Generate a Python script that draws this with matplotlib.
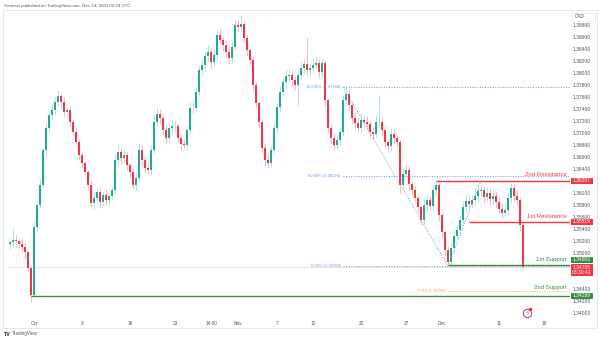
import matplotlib.pyplot as plt
from matplotlib.patches import Rectangle
from matplotlib.transforms import blended_transform_factory

plt.rcParams['font.family'] = ['Liberation Sans', 'DejaVu Sans']

# USD/CAD 4h candles, close prices
first_open = 1.3515
closes = [
    1.35184, 1.35217, 1.35200, 1.35150, 1.35100, 1.35017, 1.34750, 1.34300, 1.35434, 1.35800,
    1.36134, 1.36717, 1.37084, 1.37300, 1.37384, 1.37517, 1.37617, 1.37517, 1.37350, 1.37384,
    1.37184, 1.37017, 1.36850, 1.36634, 1.36500, 1.36350, 1.36134, 1.35834, 1.35917, 1.36017,
    1.35850, 1.35967, 1.35884, 1.35950, 1.36050, 1.36550, 1.36684, 1.36584, 1.36634, 1.36467,
    1.36350, 1.36134, 1.36250, 1.36717, 1.36550, 1.36417, 1.36384, 1.36717, 1.37184, 1.37317,
    1.37250, 1.37050, 1.36917, 1.37084, 1.37117, 1.37117, 1.36917, 1.36817, 1.36800, 1.37050,
    1.37417, 1.37417, 1.37684, 1.38050, 1.38134, 1.38284, 1.38350, 1.38184, 1.38300, 1.38634,
    1.38550, 1.38467, 1.38350, 1.38250, 1.38434, 1.38800, 1.38767, 1.38817, 1.38584, 1.38384,
    1.38217, 1.37800, 1.37500, 1.37184, 1.36750, 1.36550, 1.36500, 1.36717, 1.37084, 1.37434,
    1.37684, 1.37850, 1.37950, 1.37967, 1.37884, 1.37800, 1.37967, 1.38084, 1.38150, 1.38050,
    1.38084, 1.38134, 1.38167, 1.38017, 1.38167, 1.37550, 1.37084, 1.36917, 1.36800, 1.36884,
    1.37017, 1.37550, 1.37650, 1.37467, 1.37250, 1.37167, 1.37084, 1.37217, 1.37184, 1.37150,
    1.37017, 1.36984, 1.37184, 1.37184, 1.37050, 1.36850, 1.36784, 1.36984, 1.36917, 1.36850,
    1.36134, 1.36317, 1.36384, 1.36150, 1.36050, 1.35917, 1.35767, 1.35550, 1.35800, 1.35884,
    1.35784, 1.36050, 1.36134, 1.35634, 1.35350, 1.35050, 1.34850, 1.35084, 1.35284, 1.35384,
    1.35550, 1.35767, 1.35867, 1.35817, 1.35884, 1.35950, 1.36034, 1.36050, 1.35934, 1.36000,
    1.35900, 1.35950, 1.35850, 1.35734, 1.35667, 1.35717, 1.35917, 1.36084, 1.35950, 1.35884,
    1.35467, 1.34765,
]
# wick lengths in pips above / below the body
wick_up = [
    6, 20, 8, 5, 10, 6, 4, 3, 8, 6, 10, 5, 8, 6, 12, 8, 10, 6, 8, 5,
    6, 4, 8, 5, 6, 4, 3, 8, 10, 6, 8, 6, 10, 5, 6, 10, 12, 8, 10, 5,
    4, 6, 10, 12, 8, 6, 10, 8, 10, 12, 8, 6, 10, 8, 12, 10, 5, 6, 8, 6,
    10, 12, 8, 6, 10, 8, 12, 6, 10, 8, 10, 6, 8, 12, 10, 10, 8, 15, 6, 5,
    4, 6, 5, 4, 6, 8, 10, 6, 8, 6, 10, 8, 12, 10, 8, 6, 12, 10, 8, 45,
    8, 10, 12, 6, 10, 5, 4, 6, 8, 10, 6, 8, 12, 10, 6, 8, 10, 12, 8, 10,
    6, 8, 12, 45, 8, 6, 5, 10, 8, 6, 5, 10, 12, 6, 5, 8, 6, 4, 10, 8,
    6, 10, 8, 4, 5, 4, 6, 8, 10, 8, 6, 10, 12, 10, 8, 12, 10, 8, 6, 10,
    8, 10, 6, 8, 10, 12, 10, 8, 6, 10, 5, 3,
]
wick_dn = [
    8, 6, 10, 6, 8, 10, 6, 12, 4, 6, 5, 4, 8, 6, 10, 8, 6, 10, 8, 10,
    8, 6, 5, 6, 8, 6, 8, 6, 10, 8, 10, 6, 8, 10, 6, 5, 8, 10, 6, 8,
    10, 6, 8, 5, 10, 8, 6, 8, 5, 6, 10, 8, 10, 6, 8, 10, 8, 10, 6, 8,
    6, 8, 5, 6, 8, 10, 8, 10, 6, 8, 6, 10, 8, 10, 8, 5, 8, 6, 8, 10,
    8, 10, 8, 10, 8, 10, 8, 6, 5, 6, 8, 6, 10, 8, 10, 8, 33, 6, 8, 10,
    10, 8, 6, 10, 8, 10, 8, 10, 8, 6, 8, 6, 8, 10, 8, 10, 6, 8, 10, 8,
    8, 10, 6, 8, 10, 8, 10, 8, 10, 8, 15, 8, 6, 10, 8, 6, 8, 8, 6, 10,
    8, 6, 8, 10, 8, 10, 7, 6, 8, 6, 8, 6, 10, 8, 6, 8, 10, 8, 10, 6,
    10, 8, 10, 6, 8, 6, 10, 8, 10, 8, 10, 2,
]
pip = 0.0001

date_ticks = [8, 24, 40, 55, 67, 76, 89, 101, 117, 132, 144, 163, 178]
date_labels = ['Oct', '9', '16', '23', '14:00', 'Nov', '7', '13', '20', '27', 'Dec', '11', '18']
price_ticks = [1.388 - 0.002 * k for k in range(25)]
covered_ticks = ['1.36200', '1.34800', '1.34600']   # sit under the price tags

res2, res1 = 1.36207, 1.35519
sup1, sup2 = 1.34800, 1.34289
last_price, last_time = 1.34765, '03:30:41'
fib_100, fib_50, fib_0, fib_618 = 1.37768, 1.36276, 1.34784, 1.34359
fib_a, fib_b, fib_c = 111, 146, 157   # candle index of swing high / low / retrace high

GREEN, RED = '#22ab94', '#f23645'
LVL_GREEN = '#388e3c'
FIB_BLUE, FIB_ORANGE = '#5d9cec', '#f2a93b'
TXT = '#50535e'

opens = [first_open] + closes[:-1]
highs = [max(o, c) + w * pip for o, c, w in zip(opens, closes, wick_up)]
lows = [min(o, c) - w * pip for o, c, w in zip(opens, closes, wick_dn)]
idx = list(range(len(closes)))

fig = plt.figure(figsize=(6.0, 3.41), dpi=100)
ax = fig.add_axes([8 / 600, 23 / 341, 562 / 600, 306 / 341])
x_max = 186.67
ax.set_xlim(-0.67, x_max)
ax.set_ylim(1.33917, 1.39017)

# candles
up = [c >= o for o, c in zip(opens, closes)]
ax.vlines(idx, lows, highs, colors=['#9fdccd' if u else '#f9a7ae' for u in up], lw=0.55, zorder=2)
ax.bar(idx, [max(abs(c - o), 0.00004) for o, c in zip(opens, closes)], bottom=[min(o, c) for o, c in zip(opens, closes)],
       width=0.7, color=[GREEN if u else RED for u in up], lw=0, zorder=3)

# last price line
ax.axhline(last_price, color=RED, alpha=0.25, lw=0.5, zorder=1)

# fib levels
for lvl, lab in [(fib_100, '100.00% (1.37768)'), (fib_50, '50.00% (1.36276)'), (fib_0, '0.00% (1.34784)')]:
    ax.hlines(lvl, fib_a, x_max, colors=FIB_BLUE, lw=0.7, linestyles=(0, (1, 1.6)), zorder=1.5)
    ax.text(fib_a - 0.8, lvl, lab, ha='right', va='center', fontsize=3.0, color=FIB_BLUE)
ax.plot([fib_a, fib_b, fib_c], [fib_100, fib_0, res2], color=FIB_BLUE, lw=0.7, ls=(0, (1, 1.6)), zorder=1.5)
ax.hlines(fib_618, fib_b, x_max, colors=FIB_ORANGE, lw=0.7, linestyles=(0, (1, 1.6)), zorder=1.5)
ax.text(fib_b - 0.8, fib_618, '0.618 (1.34359)', ha='right', va='center', fontsize=3.0, color=FIB_ORANGE)

# support / resistance
ax.hlines(sup2, 7, x_max, colors=LVL_GREEN, lw=1.0, zorder=4)
ax.hlines(sup1, fib_b, x_max, colors=LVL_GREEN, lw=1.0, zorder=4)
ax.hlines(res1, 153, x_max, colors=RED, lw=1.0, zorder=4)
ax.hlines(res2, 142, x_max, colors=RED, lw=1.0, zorder=4)
ax.text(185.7, res2 + 0.00095, '2nd Resistance', ha='right', va='center', fontsize=4.3, color=RED)
ax.text(185.7, res1 + 0.00085, '1st Resistance', ha='right', va='center', fontsize=4.3, color=RED)
ax.text(185.7, sup1 + 0.00095, '1st Support', ha='right', va='center', fontsize=4.3, color=LVL_GREEN)
ax.text(185.7, sup2 + 0.00140, '2nd Support', ha='right', va='center', fontsize=4.3, color=LVL_GREEN)

# event marker
ax.plot(172.3, 1.3400, 'o', ms=6, mfc='white', mec='#ab47bc', mew=0.8, zorder=5)
ax.text(172.3, 1.3400, 'ϟ', ha='center', va='center', fontsize=3.5, color='#ab47bc', family='DejaVu Sans', zorder=6)
ax.plot(173.4, 1.34075, 'o', ms=1.6, color=RED, zorder=6)

# axes styling
for s in ax.spines.values():
    s.set_visible(False)
ax.yaxis.tick_right()
ax.set_yticks(price_ticks)
ax.set_yticklabels(['' if f'{p:.5f}' in covered_ticks else f'{p:.5f}' for p in price_ticks])
ax.set_xticks(date_ticks)
ax.set_xticklabels(date_labels)
ax.tick_params(axis='y', length=0, pad=2.2, labelsize=3.6, labelcolor=TXT)
ax.tick_params(axis='x', length=0, pad=2.0, labelsize=3.4, labelcolor=TXT)

# price scale tags
tr = blended_transform_factory(ax.transAxes, ax.transData)
bx0, bw = 563 / 562, 22 / 562
tags = [(res2, '1.36207', RED), (res1, '1.35519', RED),
        (sup1 + 0.0009, '1.34800', LVL_GREEN), (sup2, '1.34289', LVL_GREEN)]
for p, s, col in tags:
    ax.add_patch(Rectangle((bx0, p - 0.0005), bw, 0.001, transform=tr, fc=col, ec='none', clip_on=False, zorder=7))
    ax.text(bx0 + bw / 2, p, s, transform=tr, ha='center', va='center', fontsize=3.6, color='white',
            clip_on=False, zorder=8)
ax.add_patch(Rectangle((bx0, 1.34617), bw, 0.0020, transform=tr, fc=RED, ec='none', clip_on=False, zorder=7))
ax.text(bx0 + bw / 2, 1.34712, f'{last_price:.5f}\n{last_time}', transform=tr, ha='center', va='center',
        fontsize=3.6, linespacing=1.05, color='white', clip_on=False, zorder=8)

# currency tag
ax.add_patch(Rectangle((564 / 562, 1.38867), 23 / 562, 0.00135, transform=tr, fc='white', ec='#e0e3eb', lw=0.5, clip_on=False, zorder=7))
ax.text(566.5 / 562, 1.38935, 'CAD', transform=tr, ha='left', va='center', fontsize=3.3, color=TXT, clip_on=False, zorder=8)

# frame, header and footer
fig.patches.append(Rectangle((3 / 600, 13 / 341), 594 / 600, 318 / 341, transform=fig.transFigure,
                             fill=False, ec='#e0e3eb', lw=0.6))
fig.text(4 / 600, 1 - 5.5 / 341, 'Genesiv published on TradingView.com, Dec 14, 2023 02:29 UTC',
         fontsize=3.2, color='#555555', va='center')
fig.text(4 / 600, 1 - 334 / 341, 'TV', fontsize=3.8, fontweight='bold', color='#131722', va='center')
fig.text(12 / 600, 1 - 334 / 341, 'TradingView', fontsize=3.3, color='#555555', va='center')

fig.savefig('out.png', dpi=100)
